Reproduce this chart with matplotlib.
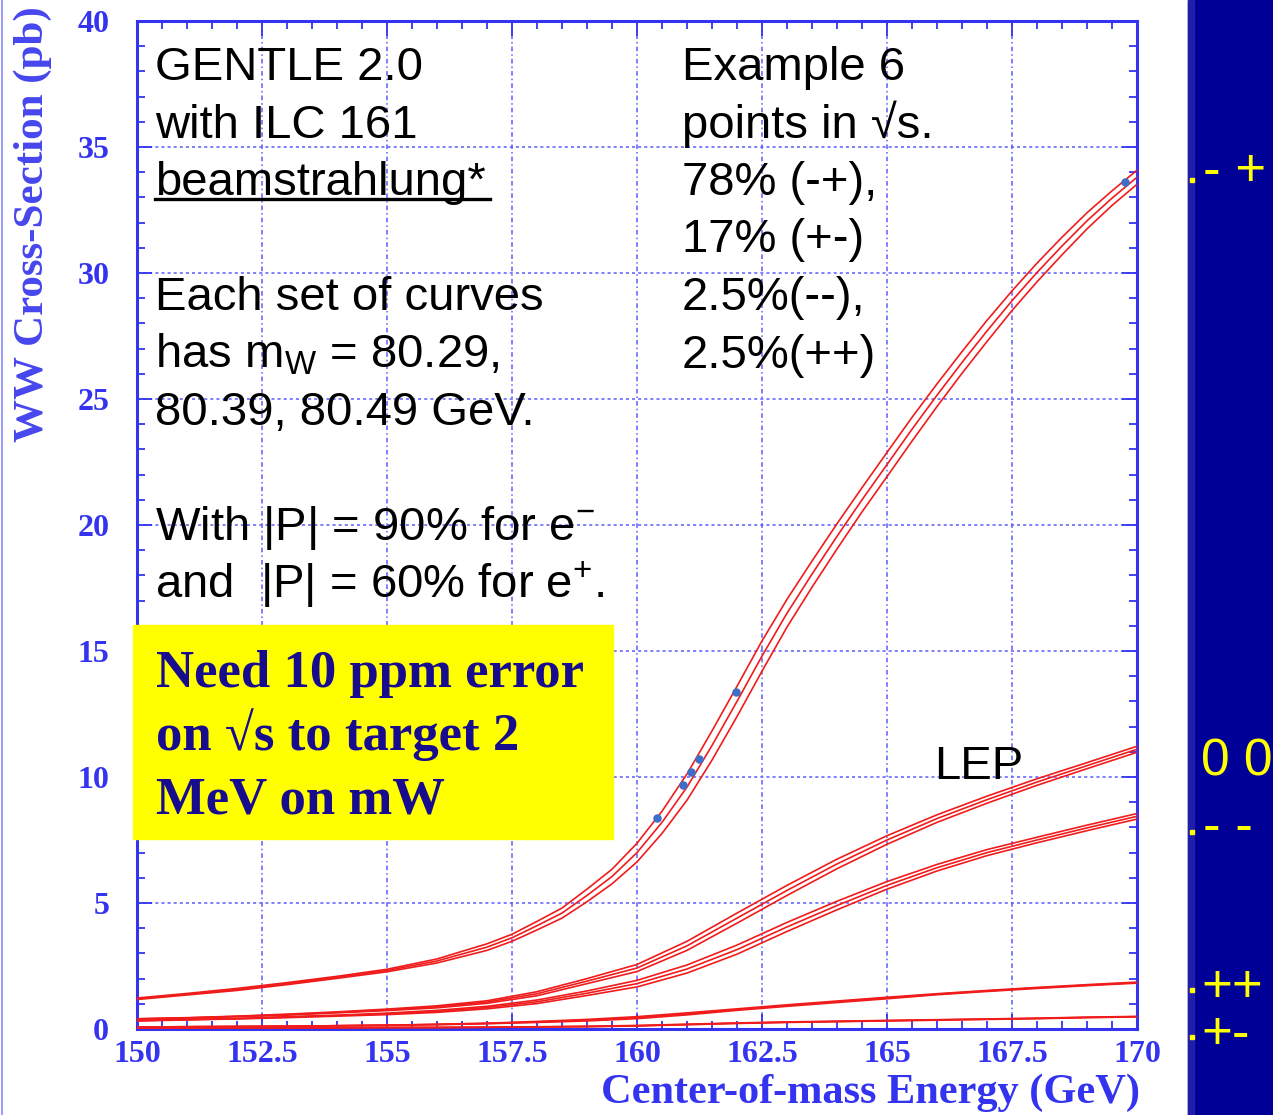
import matplotlib
matplotlib.use("Agg")
import matplotlib.pyplot as plt
from matplotlib.patches import Rectangle
from matplotlib.lines import Line2D
from matplotlib.ticker import MultipleLocator, FixedLocator

plt.rcParams['mathtext.fontset'] = 'custom'
plt.rcParams['mathtext.rm'] = 'Liberation Sans'
plt.rcParams['mathtext.it'] = 'Liberation Sans:italic'
plt.rcParams['mathtext.bf'] = 'Liberation Sans:bold'

# ---- data ----
# polarised (-+) set, one curve per W mass
e_top = [150, 151, 152, 153, 154, 155, 156, 157, 157.5, 158, 158.5, 159, 159.5,
         160, 160.5, 161, 161.5, 162, 162.5, 163, 163.5, 164, 164.5, 165, 165.5,
         166, 166.5, 167, 167.5, 168, 168.5, 169, 169.5, 170]
top_8029 = [1.23, 1.41, 1.61, 1.84, 2.09, 2.37, 2.78, 3.38, 3.76, 4.27, 4.8, 5.55, 6.34,
            7.37, 8.64, 10.12, 11.83, 13.6, 15.4, 17.05, 18.57, 20.05, 21.48, 22.88, 24.27,
            25.6, 26.88, 28.12, 29.29, 30.39, 31.42, 32.39, 33.26, 34.08]
top_8039 = [1.2, 1.38, 1.57, 1.8, 2.05, 2.32, 2.7, 3.25, 3.62, 4.1, 4.6, 5.3, 6.05,
            7.0, 8.2, 9.6, 11.25, 13.0, 14.8, 16.5, 18.05, 19.55, 21.0, 22.4, 23.8,
            25.15, 26.45, 27.7, 28.9, 30.02, 31.07, 32.07, 32.97, 33.8]
top_8049 = [1.17, 1.35, 1.53, 1.76, 2.01, 2.27, 2.62, 3.12, 3.48, 3.93, 4.4, 5.05, 5.76,
            6.63, 7.76, 9.08, 10.67, 12.4, 14.2, 15.95, 17.53, 19.05, 20.52, 21.92, 23.33,
            24.7, 26.02, 27.28, 28.51, 29.65, 30.72, 31.75, 32.68, 33.52]

# the other sets on a 1 GeV grid
e_grid = [150, 151, 152, 153, 154, 155, 156, 157, 158, 159, 160,
          161, 162, 163, 164, 165, 166, 167, 168, 169, 170]
lep_8029 = [0.41, 0.45, 0.51, 0.59, 0.68, 0.79, 0.92, 1.12, 1.48, 2.0, 2.56,
            3.48, 4.6, 5.7, 6.74, 7.67, 8.5, 9.24, 9.93, 10.57, 11.22]
lep_8039 = [0.4, 0.44, 0.5, 0.57, 0.66, 0.76, 0.88, 1.07, 1.4, 1.9, 2.42,
            3.3, 4.4, 5.5, 6.55, 7.5, 8.35, 9.1, 9.8, 10.45, 11.1]
lep_8049 = [0.39, 0.43, 0.49, 0.55, 0.64, 0.73, 0.84, 1.02, 1.32, 1.8, 2.28,
            3.12, 4.2, 5.3, 6.36, 7.33, 8.2, 8.96, 9.67, 10.33, 10.98]
mm_8029 = [0.34, 0.38, 0.42, 0.49, 0.55, 0.63, 0.74, 0.9, 1.15, 1.51, 1.93,
           2.54, 3.33, 4.23, 5.07, 5.85, 6.53, 7.12, 7.61, 8.09, 8.55]
mm_8039 = [0.33, 0.37, 0.41, 0.47, 0.53, 0.6, 0.7, 0.85, 1.08, 1.42, 1.8,
           2.38, 3.15, 4.05, 4.9, 5.7, 6.4, 7.0, 7.5, 7.98, 8.44]
mm_8049 = [0.32, 0.36, 0.40, 0.45, 0.51, 0.57, 0.66, 0.8, 1.01, 1.33, 1.67,
           2.22, 2.97, 3.87, 4.73, 5.55, 6.27, 6.88, 7.39, 7.87, 8.33]
pp_8029 = [0.08, 0.09, 0.1, 0.11, 0.13, 0.15, 0.19, 0.23, 0.3, 0.38, 0.49,
           0.64, 0.8, 0.96, 1.11, 1.26, 1.4, 1.53, 1.65, 1.76, 1.86]
pp_8039 = [0.08, 0.09, 0.1, 0.11, 0.13, 0.15, 0.18, 0.22, 0.28, 0.35, 0.45,
           0.6, 0.77, 0.93, 1.08, 1.23, 1.38, 1.51, 1.63, 1.74, 1.84]
pp_8049 = [0.08, 0.09, 0.1, 0.11, 0.13, 0.15, 0.17, 0.21, 0.26, 0.32, 0.41,
           0.56, 0.74, 0.9, 1.05, 1.2, 1.36, 1.49, 1.61, 1.72, 1.82]
pm_8029 = [0.04, 0.04, 0.05, 0.05, 0.05, 0.06, 0.06, 0.07, 0.09, 0.11, 0.14,
           0.19, 0.24, 0.28, 0.31, 0.34, 0.37, 0.4, 0.43, 0.47, 0.5]
pm_8039 = [0.04, 0.04, 0.05, 0.05, 0.05, 0.06, 0.06, 0.07, 0.08, 0.1, 0.13,
           0.18, 0.23, 0.27, 0.3, 0.33, 0.36, 0.39, 0.42, 0.46, 0.49]
pm_8049 = [0.04, 0.04, 0.05, 0.05, 0.05, 0.06, 0.06, 0.07, 0.08, 0.09, 0.12,
           0.17, 0.22, 0.26, 0.29, 0.32, 0.35, 0.38, 0.41, 0.45, 0.48]

# the 6 example points in sqrt(s)
pts_e = [160.4, 160.92, 161.08, 161.24, 161.98, 169.76]
pts_xs = [8.37, 9.68, 10.2, 10.71, 13.37, 33.6]

x_ticks = [150, 152.5, 155, 157.5, 160, 162.5, 165, 167.5, 170]
x_ticklabels = ['150', '152.5', '155', '157.5', '160', '162.5', '165', '167.5', '170']
y_ticks = [0, 5, 10, 15, 20, 25, 30, 35, 40]

W, H = 1273, 1115
blue = '#3434f0'
red = '#f01c1c'


def fx(px):
    return px / W


def fy(py):
    return 1 - py / H


fig = plt.figure(figsize=(W / 100, H / 100), dpi=100)
ax = fig.add_axes([fx(137), fy(1029), fx(1000), 1008 / H])

for e, curves in [(e_top, [top_8029, top_8039, top_8049]),
                  (e_grid, [lep_8029, lep_8039, lep_8049]),
                  (e_grid, [mm_8029, mm_8039, mm_8049]),
                  (e_grid, [pp_8029, pp_8039, pp_8049]),
                  (e_grid, [pm_8029, pm_8039, pm_8049])]:
    for c in curves:
        ax.plot(e, c, color=red, lw=1.2, zorder=3)

ax.scatter(pts_e, pts_xs, s=26, color='#3d6fc8', zorder=4)

ax.set_xlim(150, 170)
ax.set_ylim(0, 40)
ax.xaxis.set_major_locator(FixedLocator(x_ticks))
ax.set_xticklabels(x_ticklabels)
ax.xaxis.set_minor_locator(MultipleLocator(0.5))
ax.yaxis.set_major_locator(FixedLocator(y_ticks))
ax.yaxis.set_minor_locator(MultipleLocator(1))
ax.tick_params(which='both', direction='in', top=True, right=True, color=blue, width=1.3)
ax.tick_params(which='major', length=11)
ax.tick_params(which='minor', length=6)
ax.tick_params(axis='x', pad=8, labelsize=23, labelcolor=blue)
ax.tick_params(axis='y', pad=20, labelsize=23, labelcolor=blue)
for lab in ax.get_xticklabels() + ax.get_yticklabels():
    lab.set_fontfamily('Liberation Serif')
    lab.set_fontweight('bold')
for s in ax.spines.values():
    s.set_color(blue)
    s.set_linewidth(2.2)
ax.xaxis.grid(True, color='#5c5cff', lw=1.1, linestyle=(0, (3, 2, 1, 2)))
ax.yaxis.grid(True, color='#5c5cff', lw=1.1, linestyle=(0, (2, 2)))
ax.set_axisbelow(True)

ax.text(165.95, 10.4, 'LEP', fontsize=34, family='Liberation Sans', va='center', ha='left')

fig.text(fx(1140), fy(1093), 'Center-of-mass Energy (GeV)', ha='right', va='center',
         fontsize=30.5, family='Liberation Serif', weight='bold', color=blue)
fig.text(fx(33), fy(6), 'WW Cross-Section (pb)', ha='center', va='top', rotation=90,
         fontsize=31, family='Liberation Serif', weight='bold', color='#4646ee')

# text block, left column
left_lines = ['GENTLE 2.0', 'with ILC 161', 'beamstrahlung*', '',
              'Each set of curves', r'has m$_\mathrm{W}$ = 80.29,', '80.39, 80.49 GeV.', '',
              r'With |P| = 90% for e$^{-}$', r'and  |P| = 60% for e$^{+}$.']
right_lines = ['Example 6', 'points in \u221as.', '78% (-+),', '17% (+-)',
               '2.5%(--),', '2.5%(++)']
for i, t in enumerate(left_lines):
    if t:
        fig.text(fx(155), fy(80 + 57.5 * i), t, fontsize=34,
                 family=['Liberation Sans', 'DejaVu Sans'], va='baseline', ha='left')
for i, t in enumerate(right_lines):
    fig.text(fx(682), fy(80 + 57.5 * i), t, fontsize=34,
             family=['Liberation Sans', 'DejaVu Sans'], va='baseline', ha='left')
fig.add_artist(Line2D([fx(155), fx(490)], [fy(199), fy(199)], color='black', lw=2.4))

# yellow note
fig.add_artist(Rectangle((fx(133), fy(839)), fx(480), 214 / H, color='#ffff00', zorder=2))
for i, t in enumerate(['Need 10 ppm error', 'on \u221as to target 2', 'MeV on mW']):
    fig.text(fx(156), fy(687 + 63 * i), t, fontsize=38, family=['Liberation Serif', 'DejaVu Serif'],
             weight='bold', color='#170c8e', va='baseline', ha='left', zorder=3)

# slide background strip on the right
fig.add_artist(Rectangle((fx(1188), 0), fx(85), 1, color='#000096', zorder=2))
fig.add_artist(Rectangle((fx(1188), 0), fx(6), 1, color='#1e1ea8', zorder=2))
fig.add_artist(Line2D([fx(1.5), fx(1.5)], [0, 1], color='#8a8aff', lw=1.2))
ylw = '#ffff00'
for txt, px, py, fs in [('- +', 1203, 172, 38), ('0 0', 1201, 762, 37), ('- -', 1203, 828, 38),
                        ('++', 1201, 988, 38), ('+-', 1201, 1035, 38)]:
    fig.text(fx(px), fy(py), txt, fontsize=fs, family='Liberation Sans', color=ylw,
             va='center', ha='left', zorder=3)
for py in [180, 832, 990, 1037]:
    fig.add_artist(Rectangle((fx(1190), fy(py + 2)), fx(4), 4 / H, color=ylw, zorder=3))

fig.savefig('out.png', dpi=100)
